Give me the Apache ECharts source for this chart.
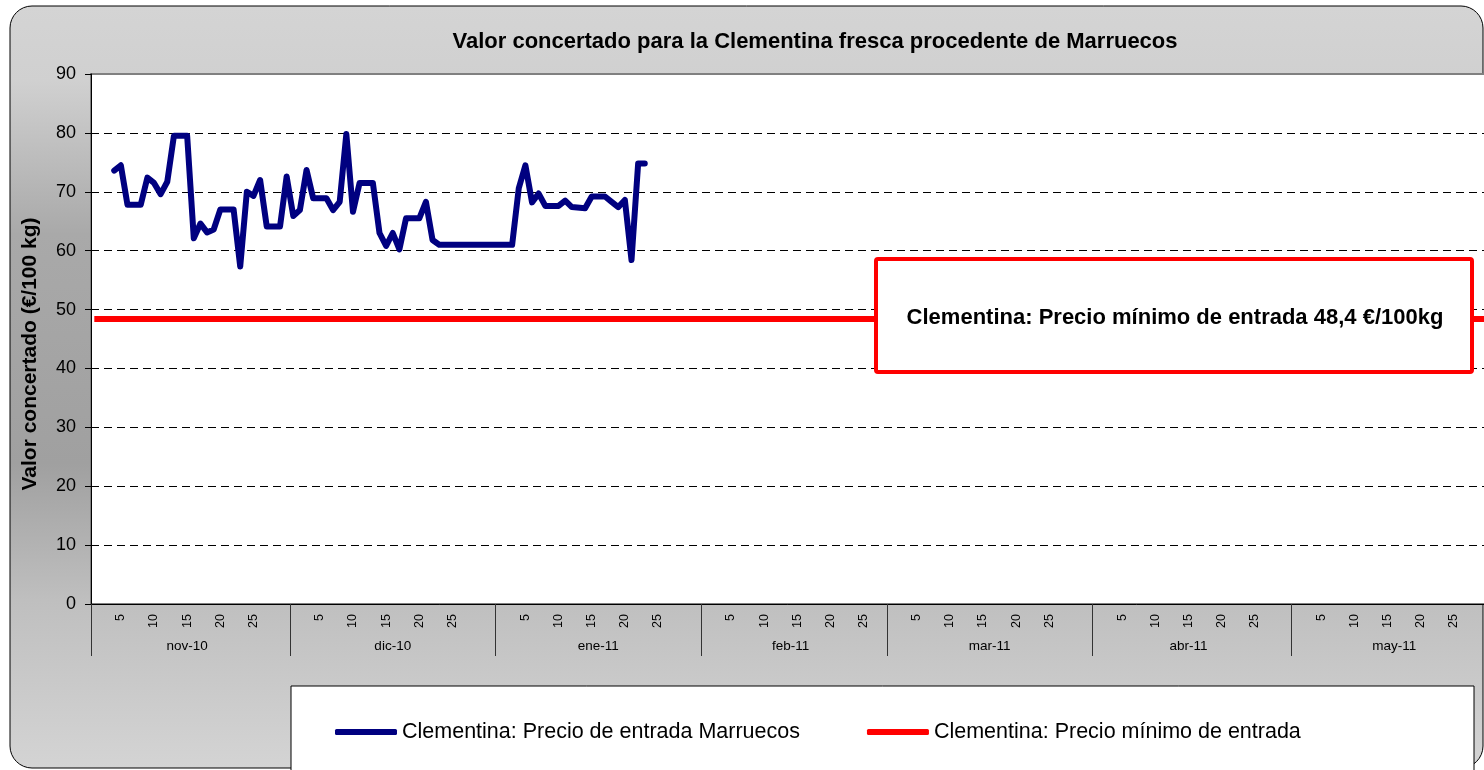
<!DOCTYPE html>
<html>
<head>
<meta charset="utf-8">
<script src="https://cdn.jsdelivr.net/npm/echarts@6/dist/echarts.min.js"></script>
<style>
  html, body { margin: 0; padding: 0; background: #fff; }
  #chart { width: 1484px; height: 770px; }
</style>
</head>
<body>
<div id="chart"></div>
<script>
  // month blocks on the x axis
  const months = ['nov-10', 'dic-10', 'ene-11', 'feb-11', 'mar-11', 'abr-11', 'may-11'];
  const monthYears = [2010, 2010, 2011, 2011, 2011, 2011, 2011];
  const monthNums = [11, 12, 1, 2, 3, 4, 5];
  const monthDays = [30, 31, 31, 28, 31, 30, 31];
  const dayLabels = [5, 10, 15, 20, 25];

  // Clementina: Precio de entrada Marruecos
  const blueDates = [
    '2010-11-04', '2010-11-05', '2010-11-06', '2010-11-08', '2010-11-09', '2010-11-10',
    '2010-11-11', '2010-11-12', '2010-11-13', '2010-11-15', '2010-11-16', '2010-11-17',
    '2010-11-18', '2010-11-19', '2010-11-20', '2010-11-22', '2010-11-23', '2010-11-24',
    '2010-11-25', '2010-11-26', '2010-11-27', '2010-11-29', '2010-11-30',
    '2010-12-01', '2010-12-02', '2010-12-03', '2010-12-04', '2010-12-06', '2010-12-07',
    '2010-12-08', '2010-12-09', '2010-12-10', '2010-12-11', '2010-12-13', '2010-12-14',
    '2010-12-15', '2010-12-16', '2010-12-17', '2010-12-18', '2010-12-20', '2010-12-21',
    '2010-12-22', '2010-12-23',
    '2011-01-03', '2011-01-04', '2011-01-05', '2011-01-06', '2011-01-07', '2011-01-08',
    '2011-01-10', '2011-01-11', '2011-01-12', '2011-01-14', '2011-01-15', '2011-01-17',
    '2011-01-18', '2011-01-19', '2011-01-20', '2011-01-21', '2011-01-22', '2011-01-23'
  ];
  const blueValues = [
    73.6, 74.5, 67.8, 67.8, 72.4, 71.5,
    69.6, 71.7, 79.5, 79.5, 62.1, 64.6,
    63.1, 63.6, 67.0, 67.0, 57.3, 70.0,
    69.3, 72.0, 64.1, 64.1, 72.6,
    65.9, 66.9, 73.7, 68.9, 68.9, 66.9,
    68.3, 79.8, 66.6, 71.5, 71.5, 63.0,
    60.8, 63.0, 60.2, 65.5, 65.5, 68.3,
    61.8, 61.0,
    61.0, 70.6, 74.5, 68.2, 69.7, 67.6,
    67.6, 68.5, 67.4, 67.2, 69.2, 69.2,
    68.3, 67.4, 68.6, 58.4, 74.8, 74.8
  ];

  // Clementina: Precio mínimo de entrada
  const minPrice = 48.4;

  const yTicks = [0, 10, 20, 30, 40, 50, 60, 70, 80, 90];

  const pad = n => (n < 10 ? '0' : '') + n;
  const days = [];
  const monthOf = {};
  months.forEach((m, i) => {
    for (let d = 1; d <= monthDays[i]; d++) {
      const key = monthYears[i] + '-' + pad(monthNums[i]) + '-' + pad(d);
      days.push(key);
      monthOf[key] = i;
    }
  });
  const dayOf = v => parseInt(v.slice(8), 10);

  const blueData = blueDates.map((d, i) => [d, blueValues[i]]);
  const redData = [[days[0], minPrice], [days[days.length - 1], minPrice]];

  const font = '"Liberation Sans", Arial, sans-serif';
  const gridPos = { left: 91, right: -13, top: 74, bottom: 166, outerBoundsMode: 'none' };

  const chart = echarts.init(document.getElementById('chart'));
  chart.setOption({
    animation: false,
    textStyle: { fontFamily: font, color: '#000' },
    title: {
      text: 'Valor concertado para la Clementina fresca procedente de Marruecos',
      left: 810, top: 26, textAlign: 'center',
      textStyle: { fontFamily: font, fontSize: 22, fontWeight: 'bold', color: '#000' }
    },
    graphic: [
      {
        type: 'rect', z: -10,
        shape: { x: 10, y: 6, width: 1473, height: 762, r: 22 },
        style: {
          fill: new echarts.graphic.LinearGradient(0, 0, 0, 1, [
            { offset: 0, color: '#d4d4d4' },
            { offset: 0.1, color: '#d0d0d0' },
            { offset: 0.3, color: '#a9a9a9' },
            { offset: 0.6, color: '#a0a0a0' },
            { offset: 0.78, color: '#bfbfbf' },
            { offset: 1, color: '#d4d4d4' }
          ]),
          stroke: '#000', lineWidth: 1
        }
      },
      {
        type: 'rect', z: -5,
        shape: { x: 291, y: 686, width: 1183, height: 110 },
        style: { fill: '#fff', stroke: '#000', lineWidth: 1 }
      },
      {
        type: 'group', z: 100,
        children: [
          {
            type: 'rect', z: 100,
            shape: { x: 876, y: 259, width: 596, height: 113, r: 2 },
            style: { fill: '#fff', stroke: '#ff0000', lineWidth: 4 }
          },
          {
            type: 'text', z: 101, x: 1175, y: 318,
            style: {
              text: 'Clementina: Precio mínimo de entrada ' + String(minPrice).replace('.', ',') + ' €/100kg',
              font: 'bold 22px ' + font, fill: '#000', align: 'center', verticalAlign: 'middle'
            }
          }
        ]
      }
    ],
    legend: {
      left: 330, top: 716,
      itemWidth: 62, itemHeight: 6, itemGap: 67,
      icon: 'roundRect',
      textStyle: { fontFamily: font, fontSize: 21.5, color: '#000' },
      data: ['Clementina: Precio de entrada Marruecos', 'Clementina: Precio mínimo de entrada']
    },
    grid: [
      Object.assign({ show: true, backgroundColor: '#fff', borderColor: '#808080', borderWidth: 2 }, gridPos),
      Object.assign({}, gridPos)
    ],
    xAxis: [
      {
        type: 'category', gridIndex: 0, data: days, boundaryGap: true,
        axisLine: { lineStyle: { color: '#000', width: 1 } },
        axisTick: {
          show: true, length: 52, alignWithLabel: false,
          interval: (i, v) => dayOf(v) === 1,
          lineStyle: { color: '#333', width: 1 }
        },
        axisLabel: {
          interval: (i, v) => dayLabels.indexOf(dayOf(v)) >= 0,
          formatter: v => String(dayOf(v)),
          rotate: 90, margin: 10, fontSize: 12.5, color: '#000', fontFamily: font
        },
        splitLine: { show: false }
      },
      {
        type: 'category', gridIndex: 1, data: days, boundaryGap: true,
        axisLine: { show: false },
        axisTick: { show: false },
        axisLabel: {
          interval: (i, v) => dayOf(v) === Math.ceil(monthDays[monthOf[v]] / 2),
          formatter: v => months[monthOf[v]],
          margin: 35, fontSize: 13.5, color: '#000', fontFamily: font
        },
        splitLine: { show: false }
      }
    ],
    yAxis: [
      {
        type: 'value', gridIndex: 0,
        min: yTicks[0], max: yTicks[yTicks.length - 1], interval: 10,
        name: 'Valor concertado (€/100 kg)',
        nameLocation: 'middle', nameGap: 50, nameRotate: 90,
        nameTextStyle: {
          fontFamily: font, fontSize: 21, fontWeight: 'bold', color: '#000',
          padding: [0, 30, 0, 0]
        },
        axisLine: { show: true, lineStyle: { color: '#000', width: 1 } },
        axisTick: { show: true, length: 6, lineStyle: { color: '#000' } },
        axisLabel: { margin: 15, fontSize: 18, color: '#000', fontFamily: font },
        splitLine: {
          show: true, showMaxLine: false, showMinLine: false,
          lineStyle: { color: '#000', width: 1, type: [8, 5] }
        }
      },
      { type: 'value', gridIndex: 1, min: 0, max: 90, show: false, splitLine: { show: false } }
    ],
    series: [
      {
        name: 'Clementina: Precio mínimo de entrada',
        type: 'line', xAxisIndex: 0, yAxisIndex: 0,
        data: redData, symbol: 'none', silent: true,
        color: '#ff0000',
        lineStyle: { color: '#ff0000', width: 6 }
      },
      {
        name: 'Clementina: Precio de entrada Marruecos',
        type: 'line', xAxisIndex: 0, yAxisIndex: 0,
        data: blueData, symbol: 'none', silent: true,
        color: '#000080',
        lineStyle: { color: '#000080', width: 6, cap: 'round', join: 'round' }
      }
    ]
  });
</script>
</body>
</html>
